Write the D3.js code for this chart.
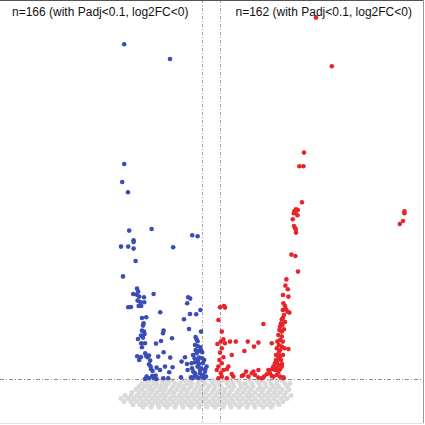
<!DOCTYPE html>
<html><head><meta charset="utf-8">
<script src="https://cdn.jsdelivr.net/npm/d3@7"></script>
<style>html,body{margin:0;padding:0;background:#fff;}svg{display:block;}</style>
</head><body>
<svg id="c" width="425" height="425"></svg>
<script>
// Labels
const labelDown = "n=166 (with Padj<0.1, log2FC<0)";
const labelUp = "n=162 (with Padj<0.1, log2FC<0)";
// thresholds (log2FC, -log10 Padj)
const fcLow = -0.45, fcHigh = 0.45, pThr = 1.5;

// down-regulated (blue): [log2FC, -log10 Padj]
const downPoints = [
[-4.34,18.24],[-2.05,17.5],[-4.34,12.25],[-4.44,11.35],[-4.15,10.84],[-4.09,8.92],[-2.97,9.0],
[-3.87,8.44],[-3.87,8.35],[-4.5,8.12],[-4.14,8.12],[-3.87,8.02],[-1.89,8.09],[-0.94,8.69],[-0.67,8.64],
[-3.77,7.4],[-4.4,6.63],[-3.7,6.02],[-3.64,5.87],[-3.89,5.75],[-3.72,5.72],[-3.59,5.62],[-3.35,5.59],
[-2.87,5.75],[-3.67,5.42],[-3.54,5.35],[-3.34,5.34],[-4.14,5.09],[-4.0,5.1],[-3.62,5.15],[-3.49,5.15],
[-1.14,5.59],[-1.04,5.52],[-1.19,5.29],[-2.54,4.84],[-1.05,4.75],[-0.74,4.74],[-0.53,4.95],[-3.24,4.59],
[-1.35,4.49],[-3.37,4.29],[-3.4,4.17],[-1.1,4.0],[-3.45,3.92],[-3.35,3.87],[-3.32,3.75],[-3.5,3.67],
[-3.4,3.57],[-3.65,3.5],[-2.37,3.92],[-2.4,3.79],[-0.5,3.87],[-2.5,3.4],[-2.75,3.27],[-1.95,3.54],
[-0.77,3.6],[-0.72,3.49],[-0.67,3.39],[-3.49,3.29],[-3.3,3.29],[-3.45,3.09],[-0.8,3.2],[-0.67,3.15],
[-0.54,3.09],[-0.5,2.95],[-0.77,2.95],[-0.62,2.89],[-0.44,2.84],[-0.72,2.79],[-2.37,2.84],[-3.29,2.79],
[-3.24,2.65],[-3.1,2.67],[-3.17,2.59],[-3.69,2.64],[-3.5,2.6],[-3.59,2.45],[-2.64,2.62],[-2.04,2.57],
[-1.3,2.59],[-0.9,2.7],[-0.82,2.54],[-0.6,2.57],[-0.44,2.54],[-0.34,2.45],[-0.65,2.42],[-0.8,2.34],
[-0.97,2.29],[-3.04,2.42],[-3.1,2.24],[-3.02,2.12],[-3.0,2.0],[-1.47,2.37],[-1.2,2.25],[-1.17,1.95],
[-0.95,2.04],[-0.89,1.87],[-1.92,2.09],[-2.55,1.95],[-0.67,2.12],[-0.49,2.04],[-0.29,1.99],[-0.55,1.79],
[-0.39,1.7],[-0.25,1.62],[-0.72,1.62],[-0.82,1.65],[-3.22,1.62],[-2.94,1.65],[-2.85,1.54],[-2.77,1.67],
[-2.39,1.54],[-2.14,1.54],[-1.5,1.59],[-1.0,1.59],[-2.92,1.9],[-2.72,2.07],[-2.3,2.12],[-2.09,1.84],
[-0.8,1.79],[-0.3,1.87],[-0.22,2.12],[-0.47,1.62],[-0.92,1.54],[-3.3,1.5],[-3.09,1.54],[-2.72,1.5],
[-0.6,2.25],[-0.4,2.3],[-0.35,1.55],[-0.65,1.55],[-0.55,1.95],[-3.45,4.55]
];

// up-regulated (red)
const upPoints = [
[5.25,19.57],[6.04,17.14],[4.65,12.82],[4.42,12.14],[4.62,12.14],[4.55,10.34],[4.25,9.99],[4.34,9.95],
[4.17,9.9],[4.22,9.82],[4.14,9.79],[4.32,9.69],[4.09,9.49],[4.15,9.15],[4.2,9.05],[4.24,8.99],[4.25,8.82],
[4.02,7.72],[4.22,7.65],[4.35,6.87],[3.77,6.48],[3.72,6.17],[3.84,5.99],[3.6,5.7],[3.87,5.62],[3.62,5.29],
[3.7,5.15],[3.75,4.99],[3.59,4.95],[3.82,4.87],[3.92,4.82],[3.65,4.7],[9.67,9.89],[9.67,9.79],[9.6,9.4],
[9.44,9.25],[0.45,5.09],[0.65,5.15],[0.7,5.07],[0.37,4.45],[2.62,4.25],[3.54,4.49],[3.5,4.29],[3.45,4.12],
[3.57,4.2],[3.42,3.95],[3.54,3.87],[3.65,3.99],[0.54,3.87],[3.37,3.7],[3.54,3.62],[3.45,3.45],[3.32,3.37],
[3.59,3.37],[3.39,3.2],[3.54,3.12],[3.29,3.04],[3.45,2.95],[0.62,3.49],[0.49,3.37],[0.32,3.25],[0.7,3.29],
[0.95,3.37],[1.24,3.37],[1.84,3.37],[2.37,3.32],[2.15,3.12],[1.67,2.9],[3.04,3.29],[3.67,3.04],[3.87,3.0],
[0.54,3.04],[0.45,2.82],[1.04,2.7],[3.25,2.7],[3.45,2.65],[3.37,2.54],[3.25,2.45],[3.5,2.45],[3.2,2.29],
[3.37,2.2],[3.15,2.12],[3.29,2.04],[3.04,1.99],[3.2,1.95],[3.45,1.99],[0.62,2.59],[0.42,2.45],[0.54,2.29],
[0.37,2.12],[0.62,1.95],[0.79,1.99],[0.49,1.79],[1.04,1.75],[1.12,1.62],[1.54,1.65],[2.12,1.87],[2.2,1.7],
[2.37,1.95],[2.87,1.95],[2.95,1.79],[3.04,1.65],[3.12,1.62],[3.29,1.7],[3.45,1.62],[3.62,1.59],[0.29,1.95],
[0.87,2.12],[0.54,1.62],[0.79,1.54],[0.37,1.54],[1.62,1.7],[1.75,1.87],[1.87,1.62],[2.04,1.79],[2.37,1.57],
[2.54,1.54],[2.65,1.62],[2.79,1.74],[3.12,2.12],[3.37,1.85],[3.54,2.12],[3.62,1.54],[3.6,4.55],[3.7,4.35],
[3.4,2.85],[3.6,2.7],[3.3,2.35],[3.55,2.25]
];

// not significant (grey): rows of -log10 Padj with log2FC values
const nsRows = [
{y:1.42, x:[-3.1,-2.85,-2.45,-2.3,-1.95,-1.35,-1.05,-0.55,-0.35,0.05,0.3,0.6,1.0,1.35,1.95,2.3,2.55,2.95,3.3,3.55]},
{y:1.27, x:[-3.45,-3.2,-2.9,-2.7,-2.4,-2.15,-1.8,-1.55,-1.2,-0.95,-0.65,-0.3,0.1,0.4,0.8,1.1,1.45,1.7,2.05,2.4,2.7,3.0,3.3,3.7,3.95]},
{y:1.12, x:[-3.6,-3.3,-3.05,-2.75,-2.5,-2.25,-1.9,-1.6,-1.35,-1.0,-0.7,-0.45,-0.1,0.2,0.5,0.9,1.15,1.5,1.8,2.1,2.45,2.75,3.1,3.4,3.8]},
{y:0.97, x:[-3.75,-3.45,-3.1,-2.9,-2.55,-2.3,-2.0,-1.7,-1.4,-1.15,-0.8,-0.5,-0.2,0.15,0.45,0.7,1.05,1.4,1.7,2.0,2.35,2.6,2.95,3.25,3.55,3.9]},
{y:0.83, x:[-3.95,-3.6,-3.3,-3.0,-2.7,-2.4,-2.1,-1.85,-1.5,-1.2,-0.9,-0.6,-0.3,0.05,0.35,0.65,0.95,1.3,1.6,1.9,2.2,2.55,2.85,3.15,3.45,3.75]},
{y:0.68, x:[-4.3,-4.0,-3.7,-3.4,-3.1,-2.8,-2.5,-2.25,-1.9,-1.6,-1.3,-1.0,-0.7,-0.4,-0.1,0.25,0.55,0.85,1.15,1.45,1.8,2.05,2.4,2.7,3.0,3.3,3.65,4.0]},
{y:0.53, x:[-4.5,-4.15,-3.85,-3.55,-3.25,-2.95,-2.65,-2.35,-2.05,-1.75,-1.45,-1.15,-0.85,-0.55,-0.25,0.1,0.4,0.7,1.0,1.3,1.6,1.9,2.2,2.55,2.85,3.15,3.5,3.8]},
{y:0.38, x:[-4.35,-4.0,-3.7,-3.4,-3.1,-2.8,-2.5,-2.2,-1.9,-1.6,-1.3,-1.0,-0.7,-0.4,-0.1,0.2,0.5,0.8,1.1,1.45,1.75,2.05,2.35,2.65,2.95,3.3,3.6]},
{y:0.23, x:[-3.9,-3.55,-3.25,-2.95,-2.65,-2.35,-2.05,-1.75,-1.45,-1.15,-0.85,-0.55,-0.25,0.05,0.35,0.65,0.95,1.25,1.55,1.85,2.15,2.45,2.8,3.1,3.4]},
{y:0.1, x:[-3.4,-3.0,-2.6,-2.2,-1.8,-1.4,-1.0,-0.6,-0.2,0.2,0.6,1.0,1.4,1.8,2.2,2.6,3.0]}
];

const svg = d3.select("#c");
const x = d3.scaleLinear().domain([-10.55, 10.6]).range([0, 423]);
const y = d3.scaleLinear().domain([0, 20.45]).range([409, 0]);

const nsPoints = nsRows.flatMap(r => r.x.map(v => [v, r.y]));

svg.append("g").selectAll("circle").data(nsPoints).join("circle")
  .attr("cx", d => x(d[0])).attr("cy", d => y(d[1])).attr("r", 2.5)
  .attr("fill", "#dadada");

// threshold lines
svg.append("line").attr("x1", 0).attr("x2", 423)
  .attr("y1", Math.round(y(pThr)) + 0.5).attr("y2", Math.round(y(pThr)) + 0.5)
  .attr("stroke", "#8c8c8c").attr("stroke-width", 1).attr("stroke-dasharray", "4,2,1,2");
[fcLow, fcHigh].forEach(v => {
  svg.append("line").attr("x1", Math.round(x(v)) + 0.5).attr("x2", Math.round(x(v)) + 0.5)
    .attr("y1", 0).attr("y2", 423)
    .attr("stroke", "#a2a2a2").attr("stroke-width", 1).attr("stroke-dasharray", "3,2,1,2");
});

svg.append("g").selectAll("circle").data(downPoints).join("circle")
  .attr("cx", d => x(d[0])).attr("cy", d => y(d[1])).attr("r", 2.3)
  .attr("fill", "#3a4cb5");
svg.append("g").selectAll("circle").data(upPoints).join("circle")
  .attr("cx", d => x(d[0])).attr("cy", d => y(d[1])).attr("r", 2.3)
  .attr("fill", "#e8242b");

// frame
svg.append("line").attr("x1", 0).attr("x2", 424).attr("y1", 0.5).attr("y2", 0.5).attr("stroke", "#555");
svg.append("line").attr("x1", 423.5).attr("x2", 423.5).attr("y1", 0).attr("y2", 424).attr("stroke", "#999");
svg.append("line").attr("x1", 0).attr("x2", 424).attr("y1", 423.5).attr("y2", 423.5).attr("stroke", "#e2e2e2");

// labels
svg.append("text").attr("x", 12).attr("y", 15.5).text(labelDown)
  .attr("font-family", "Liberation Sans, Arial, sans-serif").attr("font-size", 12).attr("fill", "#111");
svg.append("text").attr("x", 235.5).attr("y", 15.5).text(labelUp)
  .attr("font-family", "Liberation Sans, Arial, sans-serif").attr("font-size", 12).attr("fill", "#111");
</script>
</body></html>
